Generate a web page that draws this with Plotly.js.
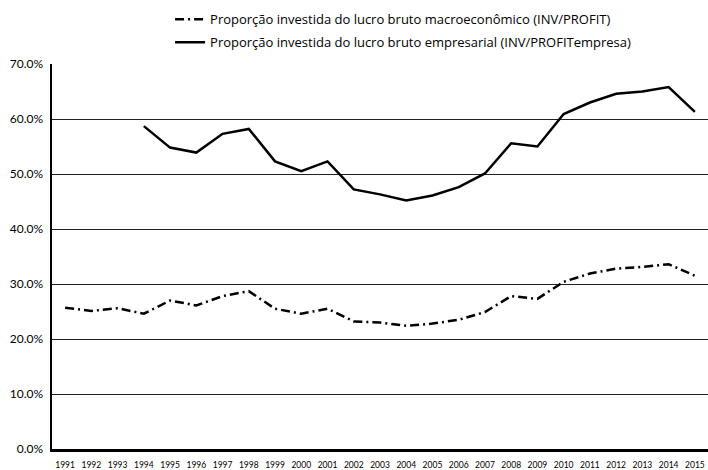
<!DOCTYPE html>
<html>
<head>
<meta charset="utf-8">
<script src="https://cdn.plot.ly/plotly-3.0.1.min.js"></script>
<style>html,body{margin:0;padding:0;background:#fff;}#chart{width:708px;height:470px;}</style>
</head>
<body>
<div id="chart"></div>
<script>
const years = ["1991","1992","1993","1994","1995","1996","1997","1998","1999","2000","2001","2002","2003","2004","2005","2006","2007","2008","2009","2010","2011","2012","2013","2014","2015"];
const macroName = "Proporção investida do lucro bruto macroeconômico (INV/PROFIT)";
const empresaName = "Proporção investida do lucro bruto empresarial (INV/PROFITempresa)";
const macroValues = [25.7, 25.1, 25.6, 24.6, 27.0, 26.1, 27.8, 28.7, 25.5, 24.6, 25.5, 23.2, 23.0, 22.4, 22.8, 23.5, 24.9, 27.8, 27.3, 30.4, 31.9, 32.8, 33.1, 33.6, 31.5];
const empresaValues = [null, null, null, 58.7, 54.8, 53.9, 57.3, 58.2, 52.3, 50.5, 52.3, 47.2, 46.3, 45.2, 46.1, 47.6, 50.1, 55.6, 55.0, 60.9, 63.0, 64.6, 65.0, 65.8, 61.3];
const yTicks = [0, 10, 20, 30, 40, 50, 60, 70];

const traces = [
  {x: years, y: macroValues, name: macroName, type: 'scatter', mode: 'lines', legendgroup: 'a',
   line: {color: '#000', width: 2.5, dash: '9px,4px,2px,4px'}},
  {x: years, y: empresaValues, name: empresaName, type: 'scatter', mode: 'lines', legendgroup: 'b',
   line: {color: '#000', width: 2.5}, connectgaps: false}
];

const layout = {
  width: 708, height: 470,
  margin: {l: 52, r: 0, t: 64, b: 21},
  paper_bgcolor: '#fff', plot_bgcolor: '#fff',
  font: {family: 'Lato, "Open Sans", sans-serif', color: '#000'},
  showlegend: true,
  legend: {x: 0.18, xanchor: 'left', y: 1.155, yanchor: 'top', orientation: 'v',
    traceorder: 'grouped', tracegroupgap: 3,
    font: {family: '"Open Sans", Lato, sans-serif', size: 13, color: '#000'}, bgcolor: 'rgba(0,0,0,0)'},
  xaxis: {type: 'category', range: [-0.5, 24.5], showgrid: false, zeroline: false,
    showline: true, linecolor: '#000', linewidth: 2.5, ticks: '', ticklabelstandoff: 6,
    tickfont: {size: 8.5, color: '#000'}, automargin: false, fixedrange: true, tickangle: 0},
  yaxis: {range: [0, 70], tickvals: yTicks, ticktext: yTicks.map(v => v.toFixed(1) + '%'),
    showgrid: true, gridcolor: '#222', gridwidth: 1, zeroline: false,
    showline: true, linecolor: '#000', linewidth: 2.5, ticks: '', ticklabelstandoff: 4,
    tickfont: {size: 12, color: '#000'}, automargin: false, fixedrange: true}
};

Plotly.newPlot('chart', traces, layout, {staticPlot: true, displayModeBar: false});
</script>
</body>
</html>
